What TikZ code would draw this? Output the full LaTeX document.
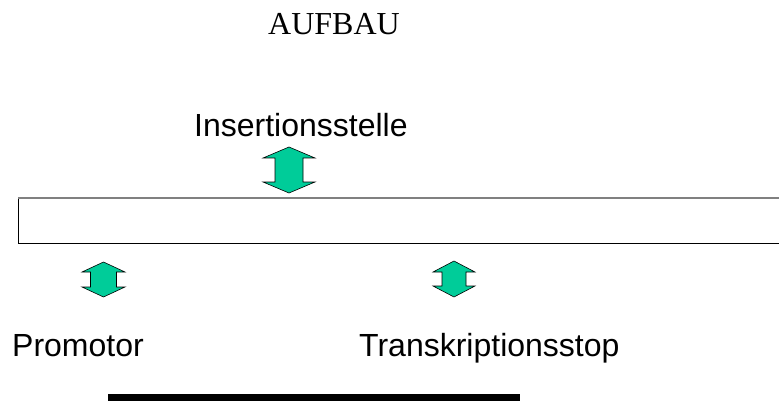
\documentclass[tikz,border=0pt]{standalone}
\usepackage{fontspec}
\setmainfont{Liberation Serif}
\newfontfamily\arialf{Liberation Sans}
\definecolor{arrgreen}{RGB}{0,204,153}
\tikzset{
  lbl/.style={font=\arialf\fontsize{32}{38}\selectfont, inner sep=0pt, anchor=base west},
  arrowstyle/.style={draw=black, line width=0.6pt, fill=arrgreen, line join=miter},
}
\newcommand\dblarrow[6]{%
  \draw[arrowstyle] (#1,-#2) -- ({#1+#4},{-#2-#6}) -- ({#1+#5},{-#2-#6}) -- ({#1+#5},{-#3+#6})
    -- ({#1+#4},{-#3+#6}) -- (#1,-#3) -- ({#1-#4},{-#3+#6}) -- ({#1-#5},{-#3+#6})
    -- ({#1-#5},{-#2-#6}) -- ({#1-#4},{-#2-#6}) -- cycle;}
\begin{document}
\begin{tikzpicture}[x=1pt,y=1pt]
\useasboundingbox (0,0) rectangle (779,-401);
\node[font=\fontsize{32}{38}\selectfont, inner sep=0pt, anchor=base west] (title) at (268,-35) {AUFBAU};
\node[lbl] (ins) at (194,-136) {Insertionsstelle};
\node[lbl] (prom) at (12,-356) {Promotor};
\node[lbl] (stop) at (359,-356) {Transkriptionsstop};
% sequence box
\draw[black, line width=0.8pt] (786,-198) -- (18,-198) -- (18,-243) -- (786,-243);
\draw[gray, line width=1.6pt] (18,-198) -- (786,-198);
% arrows
\dblarrow{289}{147}{193}{26}{14}{11}
\dblarrow{103.5}{262}{297}{21.5}{13}{10}
\dblarrow{454}{261}{297}{21}{12}{11}
% bar
\fill[black] (108,-394) rectangle (520,-406);
\end{tikzpicture}
\end{document}
